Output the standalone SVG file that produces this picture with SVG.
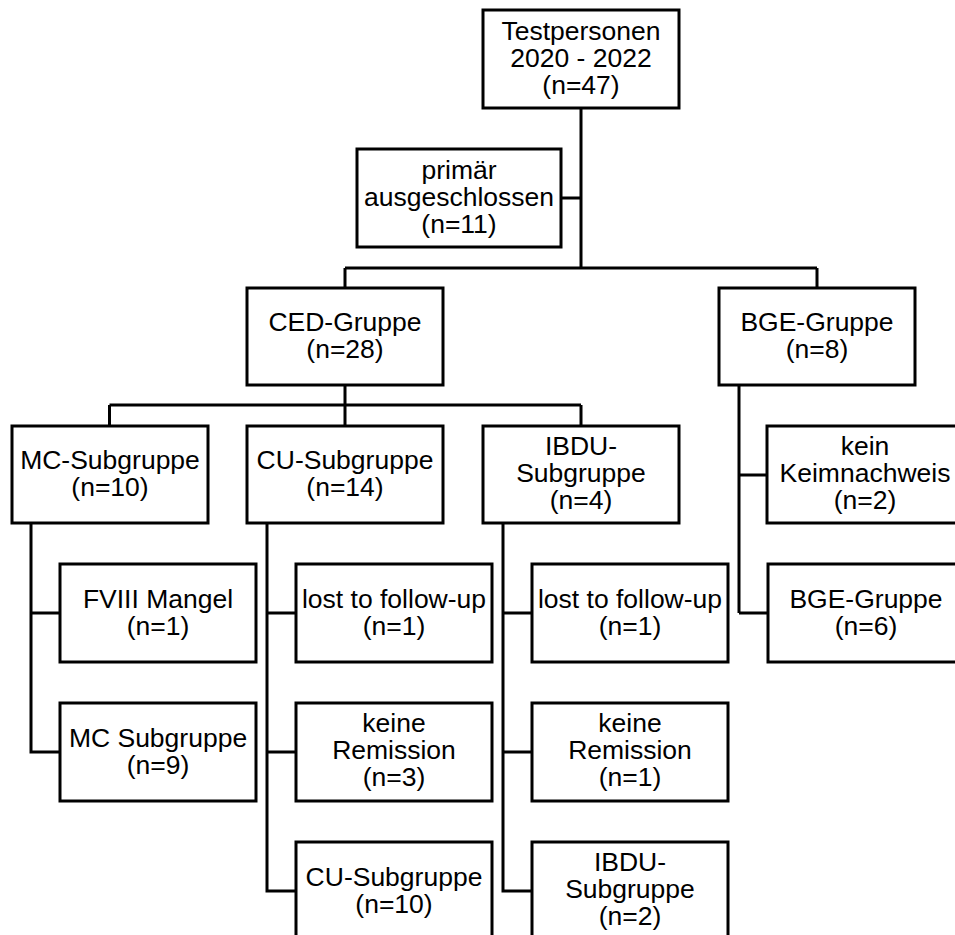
<svg xmlns="http://www.w3.org/2000/svg" width="955" height="935" viewBox="0 0 955 935">
<style>
.box{fill:#fff;stroke:#000;stroke-width:3}
.c{fill:none;stroke:#000;stroke-width:3}
text{font-family:"Liberation Sans",Arial,sans-serif;font-size:26.5px;fill:#000;text-anchor:middle}
</style>
<rect width="955" height="935" fill="#fff"/>
<g id="connectors" class="c">
<path d="M581,108 V268 M561,198 H581 M345,268 H817 M345,268 V288 M817,268 V288"/>
<path d="M345,385 V405 M109.5,405 H581 M109.5,405 V426 M345,405 V426 M581,405 V426"/>
<path d="M739,385 V613 M739,475 H767 M739,613 H768"/>
<path d="M31,523 V752 H60 M31,613 H60"/>
<path d="M267,523 V891 H296 M267,613 H296 M267,752 H296"/>
<path d="M503,523 V891 H532 M503,613 H532 M503,752 H532"/>
</g>
<g id="n-test"><rect class="box" x="483" y="10" width="196" height="98"/><text x="581" y="40">Testpersonen<tspan x="581" dy="27">2020 - 2022</tspan><tspan x="581" dy="27">(n=47)</tspan></text></g>
<g id="n-prim"><rect class="box" x="357" y="149" width="204" height="98"/><text x="459" y="179">primär<tspan x="459" dy="27">ausgeschlossen</tspan><tspan x="459" dy="27">(n=11)</tspan></text></g>
<g id="n-ced"><rect class="box" x="247" y="288" width="196" height="97"/><text x="345" y="331">CED-Gruppe<tspan x="345" dy="27">(n=28)</tspan></text></g>
<g id="n-bge"><rect class="box" x="719" y="288" width="196" height="97"/><text x="817" y="331">BGE-Gruppe<tspan x="817" dy="27">(n=8)</tspan></text></g>
<g id="n-mc"><rect class="box" x="12" y="426" width="196" height="97"/><text x="110" y="469">MC-Subgruppe<tspan x="110" dy="27">(n=10)</tspan></text></g>
<g id="n-cu"><rect class="box" x="247" y="426" width="196" height="97"/><text x="345" y="469">CU-Subgruppe<tspan x="345" dy="27">(n=14)</tspan></text></g>
<g id="n-ibdu"><rect class="box" x="483" y="426" width="196" height="97"/><text x="581" y="455">IBDU-<tspan x="581" dy="27">Subgruppe</tspan><tspan x="581" dy="27">(n=4)</tspan></text></g>
<g id="n-kein"><rect class="box" x="767" y="426" width="196" height="97"/><text x="865" y="455">kein<tspan x="865" dy="27">Keimnachweis</tspan><tspan x="865" dy="27">(n=2)</tspan></text></g>
<g id="n-fviii"><rect class="box" x="60" y="564" width="196" height="98"/><text x="158" y="608">FVIII Mangel<tspan x="158" dy="27">(n=1)</tspan></text></g>
<g id="n-mcsub"><rect class="box" x="60" y="703" width="196" height="98"/><text x="158" y="747">MC Subgruppe<tspan x="158" dy="27">(n=9)</tspan></text></g>
<g id="n-cu-lost"><rect class="box" x="296" y="564" width="196" height="98"/><text x="394" y="608">lost to follow-up<tspan x="394" dy="27">(n=1)</tspan></text></g>
<g id="n-cu-keine"><rect class="box" x="296" y="703" width="196" height="98"/><text x="394" y="732">keine<tspan x="394" dy="27">Remission</tspan><tspan x="394" dy="27">(n=3)</tspan></text></g>
<g id="n-cusub"><rect class="box" x="296" y="842" width="196" height="98"/><text x="394" y="886">CU-Subgruppe<tspan x="394" dy="27">(n=10)</tspan></text></g>
<g id="n-ibdu-lost"><rect class="box" x="532" y="564" width="196" height="98"/><text x="630" y="608">lost to follow-up<tspan x="630" dy="27">(n=1)</tspan></text></g>
<g id="n-ibdu-keine"><rect class="box" x="532" y="703" width="196" height="98"/><text x="630" y="732">keine<tspan x="630" dy="27">Remission</tspan><tspan x="630" dy="27">(n=1)</tspan></text></g>
<g id="n-ibdusub"><rect class="box" x="532" y="842" width="196" height="98"/><text x="630" y="871">IBDU-<tspan x="630" dy="27">Subgruppe</tspan><tspan x="630" dy="27">(n=2)</tspan></text></g>
<g id="n-bgesub"><rect class="box" x="768" y="564" width="196" height="98"/><text x="866" y="608">BGE-Gruppe<tspan x="866" dy="27">(n=6)</tspan></text></g>
</svg>
